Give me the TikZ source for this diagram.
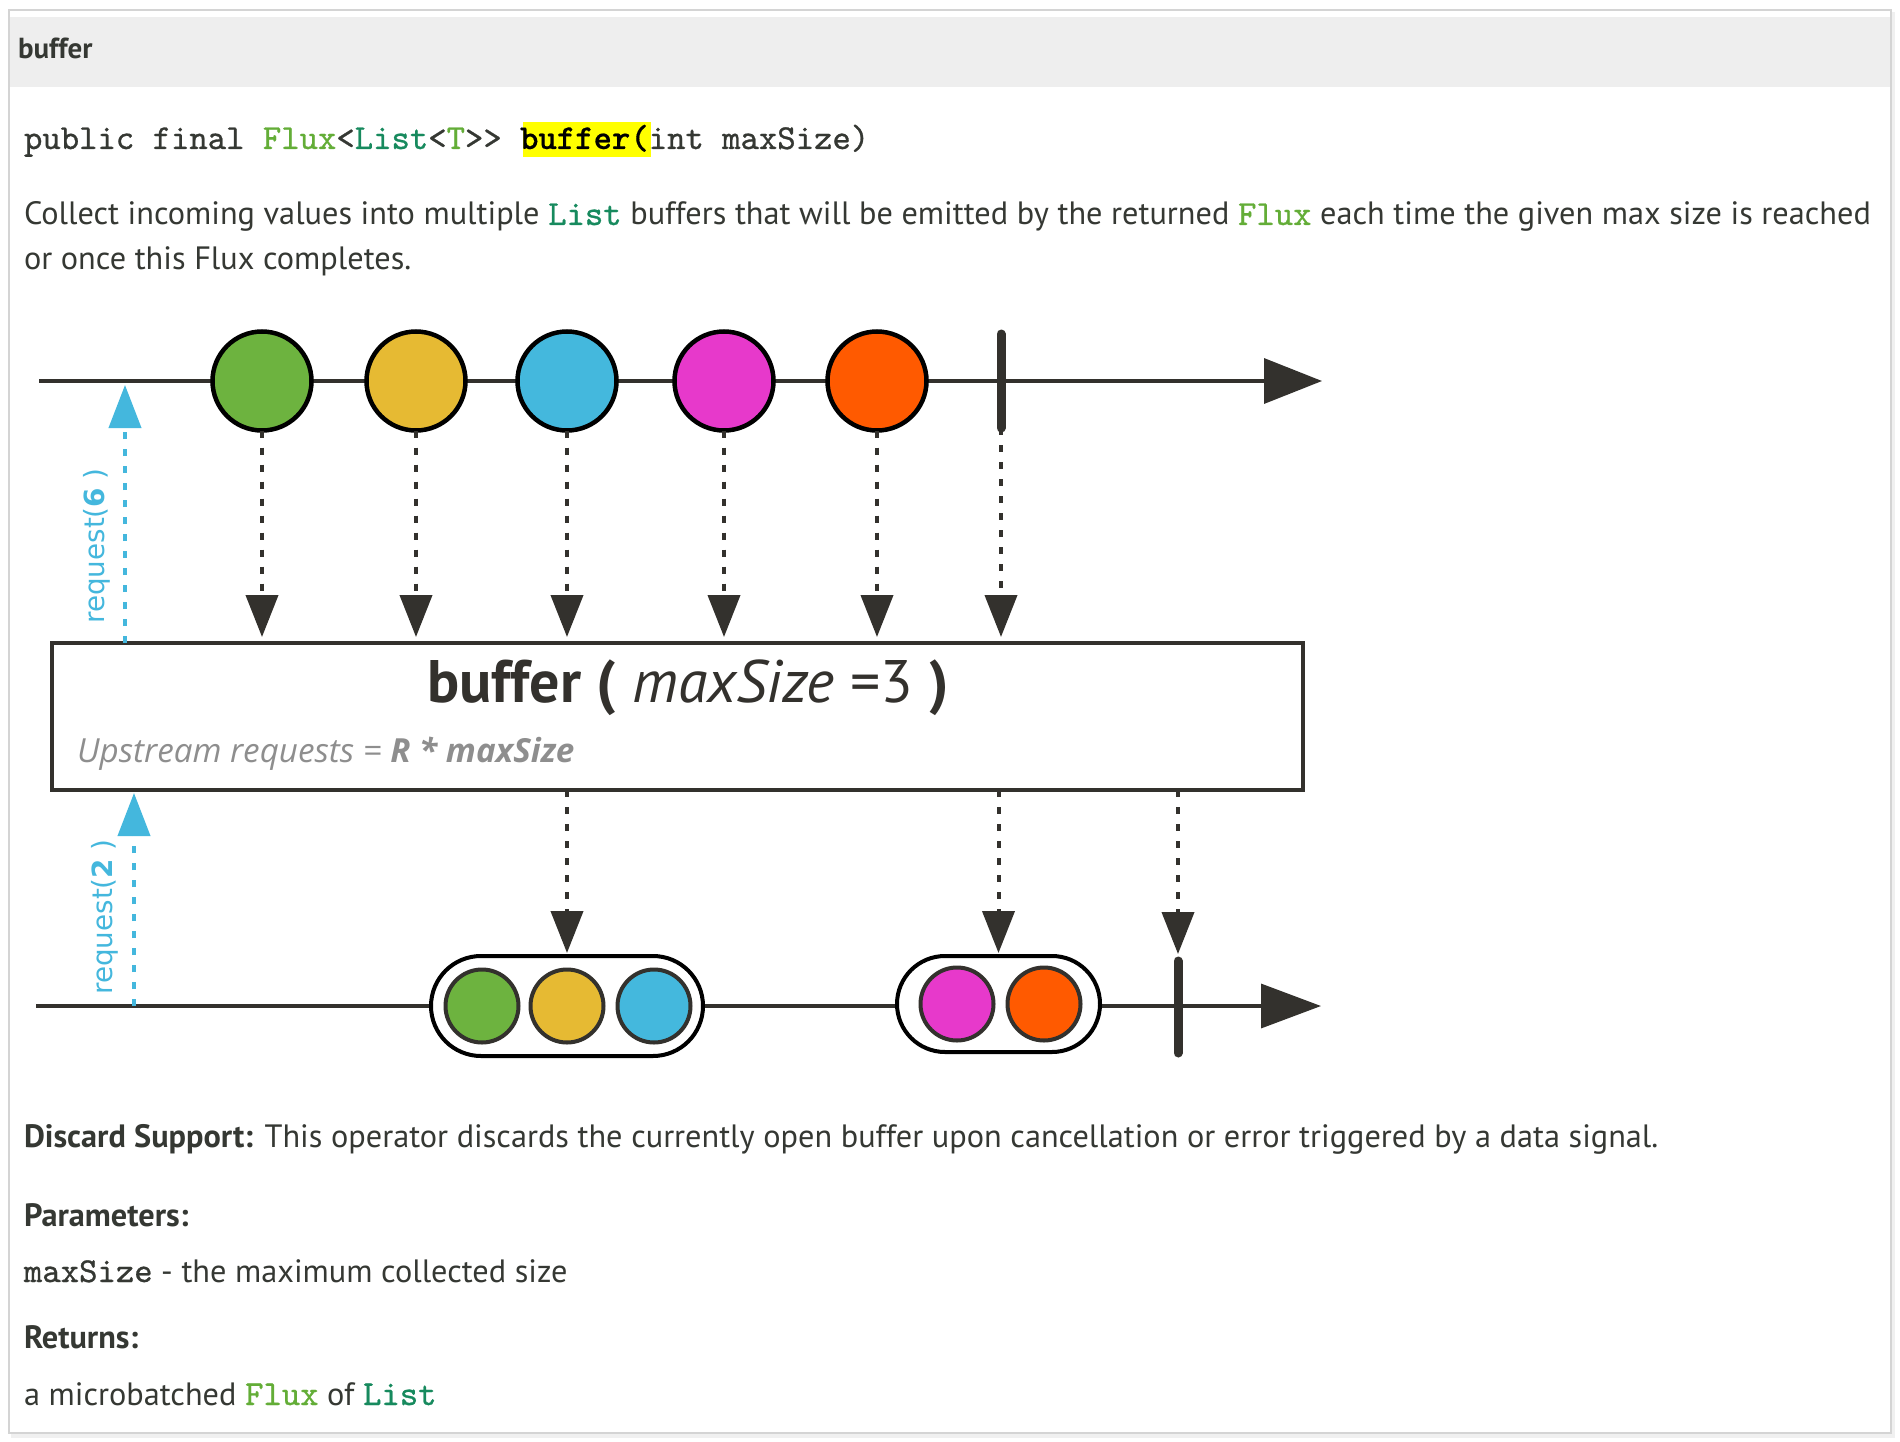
\documentclass[tikz,border=0pt]{standalone}
\usepackage{fontspec}
\setmainfont{PT Sans}
\newfontfamily\monof{lmmono10-regular.otf}[FakeBold=0.8]
\newfontfamily\monobf{lmmonolt10-bold.otf}[FakeBold=0.4]
\newfontfamily\djf{DejaVu Sans}
\newfontfamily\osf{Open Sans}
\usetikzlibrary{arrows.meta}
\definecolor{txt}{HTML}{353833}
\definecolor{fluxg}{HTML}{63AD37}
\definecolor{listg}{HTML}{178A5E}
\definecolor{ink}{HTML}{33312D}
\definecolor{reqb}{HTML}{44B7DD}
\definecolor{cgreen}{HTML}{6DB33F}
\definecolor{cyellow}{HTML}{E6BA33}
\definecolor{cblue}{HTML}{44B8DD}
\definecolor{cmag}{HTML}{E739CB}
\definecolor{corange}{HTML}{FF5A00}
\definecolor{hdr}{HTML}{EEEEEE}
\definecolor{framec}{HTML}{D4D4D4}
\definecolor{upgray}{HTML}{8E8E8E}
\definecolor{hilite}{HTML}{FFFF00}
\newcommand{\monoin}{\monof\fontsize{35}{38}\selectfont}
\newcommand{\fluxw}{{\monoin\color{fluxg}Flux}}
\newcommand{\listw}{{\monoin\color{listg}List}}
\begin{document}
\begin{tikzpicture}[x=1pt,y=-1pt,
  marble/.style={circle, draw=black, line width=4.5pt, minimum size=99pt, inner sep=0pt, outer sep=0pt},
  smallmarble/.style={circle, draw=ink, line width=4pt, minimum size=73pt, inner sep=0pt, outer sep=0pt},
  flow/.style={draw=ink, line width=3.5pt},
  dotarrow/.style={draw=ink, line width=4pt, dash pattern=on 7pt off 10pt, -{Triangle[length=42pt,width=32pt]}},
  reqarrow/.style={draw=reqb, line width=4pt, dash pattern=on 7pt off 10pt, -{Triangle[length=43pt,width=32pt]}},
  termbar/.style={draw=ink, line width=9pt, line cap=round},
  capsule/.style={draw=black, line width=4pt, fill=white, inner sep=0pt, outer sep=0pt},
  txtline/.style={anchor=base west, inner sep=0pt, outer sep=0pt, text=txt, font=\fontsize{32.3}{38}\selectfont},
  reqlabel/.style={rotate=90, inner sep=0pt, text=reqb, font=\djf\fontsize{27.8}{32}\selectfont}
]
\useasboundingbox (0,0) rectangle (1900,1442);
% page frame
\fill[black!12] (11,12) rectangle (1893,1436);
\fill[black!6] (11,12) rectangle (1895,1438);
\fill[white] (9,10) rectangle (1891,1433);
\draw[framec, line width=1.2pt] (9,10) rectangle (1891,1433);
\fill[hdr] (10,17) rectangle (1890,87);
\node[txtline, font=\bfseries\fontsize{29}{34}\selectfont] (hdrtitle) at (18,59) {buffer};

% signature
\fill[hilite] (523,122) rectangle (651,157);
\node[txtline, font=\monof\fontsize{35}{40}\selectfont] (sig) at (24,149)
  {public final {\color{fluxg}Flux}<{\color{listg}List}<{\color{fluxg}T}>> {\monobf\color{black}buffer(}int maxSize)};

% description
\node[txtline] (desc1) at (24,225) {Collect incoming values into multiple \listw{} buffers that will be emitted by the returned \fluxw{} each time the given max size is reached};
\node[txtline] (desc2) at (24,269) {or once this Flux completes.};

% top timeline
\coordinate (ta) at (39,381);
\coordinate (tb) at (1322,381);
\draw[flow, -{Triangle[length=58pt,width=45pt]}] (ta) -- (tb);
\node[marble, fill=cgreen] (m1) at (262,381) {};
\node[marble, fill=cyellow] (m2) at (416,381) {};
\node[marble, fill=cblue] (m3) at (567,381) {};
\node[marble, fill=cmag] (m4) at (724,381) {};
\node[marble, fill=corange] (m5) at (877,381) {};
\coordinate (ca) at (1001,334);
\coordinate (cb) at (1001,428);
\draw[termbar] (ca) -- (cb);

% operator box
\node[draw=ink, line width=4pt, minimum width=1251pt, minimum height=147pt, inner sep=0pt, outer sep=0pt] (box) at (677.5,716.5) {};
\node[anchor=base west, inner sep=0pt, text=ink, font=\fontsize{60}{64}\selectfont] (optitle) at (427,702)
  {\textbf{buffer (} \textit{maxSize} =3 \textbf{)}};
\node[anchor=base west, inner sep=0pt, text=upgray, font=\osf\itshape\fontsize{33.2}{38}\selectfont] (upreq) at (77,762)
  {Upstream requests = \textbf{R * maxSize}};

% arrows into the box
\foreach \m in {m1,m2,m3,m4,m5}
  \draw[dotarrow, shorten >=6pt] (\m.south) -- (\m.south |- box.north);
\draw[dotarrow, shorten >=6pt] (cb) -- (cb |- box.north);

% request(6)
\coordinate (r6) at (125,381);
\draw[reqarrow, shorten >=4pt] (r6 |- box.north) -- (r6);
\node[reqlabel] (req6) at (97,546) {request(\textbf{6} )};

% bottom timeline
\coordinate (ba) at (36,1006);
\coordinate (bb) at (1321,1006);
\draw[flow, -{Triangle[length=60pt,width=44pt]}] (ba) -- (bb);
\node[capsule, rounded corners=50pt, minimum width=272pt, minimum height=100pt] (cap1) at (567,1006) {};
\node[smallmarble, fill=cgreen] (s1) at (482,1006) {};
\node[smallmarble, fill=cyellow] (s2) at (567,1006) {};
\node[smallmarble, fill=cblue] (s3) at (654,1006) {};
\node[capsule, rounded corners=48pt, minimum width=203pt, minimum height=96pt] (cap2) at (998.5,1004) {};
\node[smallmarble, fill=cmag] (s4) at (957,1004) {};
\node[smallmarble, fill=corange] (s5) at (1044,1004) {};
\coordinate (da) at (1178,961);
\coordinate (db) at (1178,1053);
\draw[termbar] (da) -- (db);

% arrows out of the box
\draw[dotarrow, shorten >=3pt] (box.south -| cap1.north) -- (cap1.north);
\draw[dotarrow, shorten >=3pt] (box.south -| cap2.north) -- (cap2.north);
\draw[dotarrow, shorten >=7pt] (box.south -| da) -- (da);

% request(2)
\coordinate (r2) at (134,1006);
\draw[reqarrow, shorten >=3pt] (r2) -- (r2 |- box.south);
\node[reqlabel] (req2) at (105,917) {request(\textbf{2} )};

% lower text
\node[txtline] (discard) at (24,1147) {\textbf{Discard Support:} This operator discards the currently open buffer upon cancellation or error triggered by a data signal.};
\node[txtline, font=\bfseries\fontsize{32.3}{38}\selectfont] (params) at (24,1226) {Parameters:};
\node[txtline] (param1) at (24,1282) {{\monoin maxSize} - the maximum collected size};
\node[txtline, font=\bfseries\fontsize{32.3}{38}\selectfont] (returns) at (24,1348) {Returns:};
\node[txtline] (ret1) at (24,1405) {a microbatched \fluxw{} of \listw};
\end{tikzpicture}
\end{document}
